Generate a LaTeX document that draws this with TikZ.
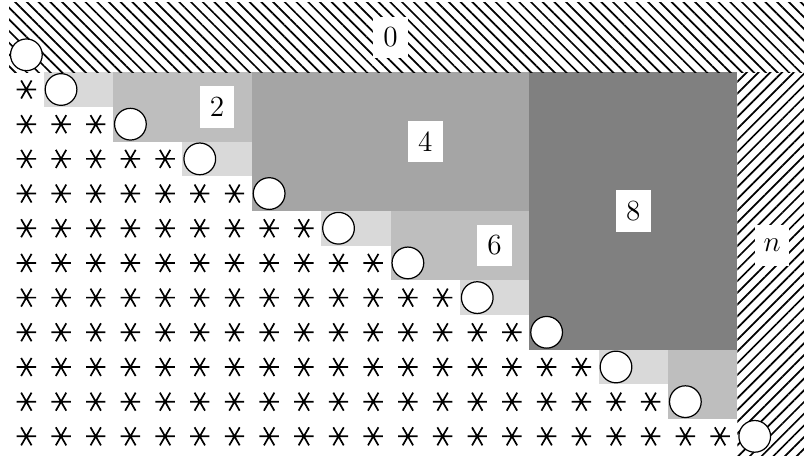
\documentclass[tikz,border=0pt]{standalone}
\usepackage{tikz}
\usetikzlibrary{patterns.meta}
\definecolor{LightGray}{RGB}{217,217,217}
\definecolor{MidGray}{RGB}{190,190,190}
\definecolor{DarkGray}{RGB}{165,165,165}
\definecolor{DeepGray}{RGB}{128,128,128}

\begin{document}
\begin{tikzpicture}[
    x=0.5cm, y=0.5cm,
    hatchtop/.style={pattern={Lines[angle=-45,distance=3.4pt,line width=0.7pt]}},
    hatchright/.style={pattern={Lines[angle=45,distance=3.4pt,line width=0.7pt]}},
    pivot/.style={circle, draw, line width=0.5pt, fill=white, minimum size=0.457cm, inner sep=0pt},
    blocklabel/.style={fill=white, font=\large, minimum width=0.5cm, minimum height=0.6cm, inner sep=0pt},
    asterisk/.pic={\draw[line width=0.7pt] (-0.28,0) -- (0.28,0) (60:0.3) -- (240:0.3) (120:0.3) -- (300:0.3);},
]
\useasboundingbox (-0.26,1.08) rectangle (22.92,-12.06);

% shaded blocks
\foreach \r in {1,3,5,7,9}
    \fill[LightGray] ({2*\r-1},-\r) rectangle ({2*\r+1},{-\r-1});
\fill[MidGray] (3,-1) rectangle (7,-3);
\fill[MidGray] (11,-5) rectangle (15,-7);
\fill[MidGray] (19,-9) rectangle (21,-11);
\fill[DarkGray] (7,-1) rectangle (15,-5);
\fill[DeepGray] (15,-1) rectangle (21,-9);

% hatched borders
\path[hatchtop] (0,1) rectangle (22.92,-1);
\path[hatchright] (21,-1) rectangle (22.92,-12.06);

% stars below the diagonal
\foreach \i in {1,...,11} {
    \pgfmathtruncatemacro\last{2*\i-2}
    \foreach \k in {0,...,\last}
        \pic at (\k+0.5,-\i-0.5) {asterisk};
}

% diagonal
\node[pivot] (p0) at (0.5,-0.5) {};
\foreach \i in {1,...,11}
    \node[pivot] (p\i) at ({2*\i-0.5},{-\i-0.5}) {};

\node[blocklabel] (l0) at (11,0) {0};
\node[blocklabel] (l2) at (6,-2) {2};
\node[blocklabel] (l4) at (12,-3) {4};
\node[blocklabel] (l6) at (14,-6) {6};
\node[blocklabel] (l8) at (18,-5) {8};
\node[blocklabel] (ln) at (22,-6) {$n$};
\end{tikzpicture}
\end{document}
